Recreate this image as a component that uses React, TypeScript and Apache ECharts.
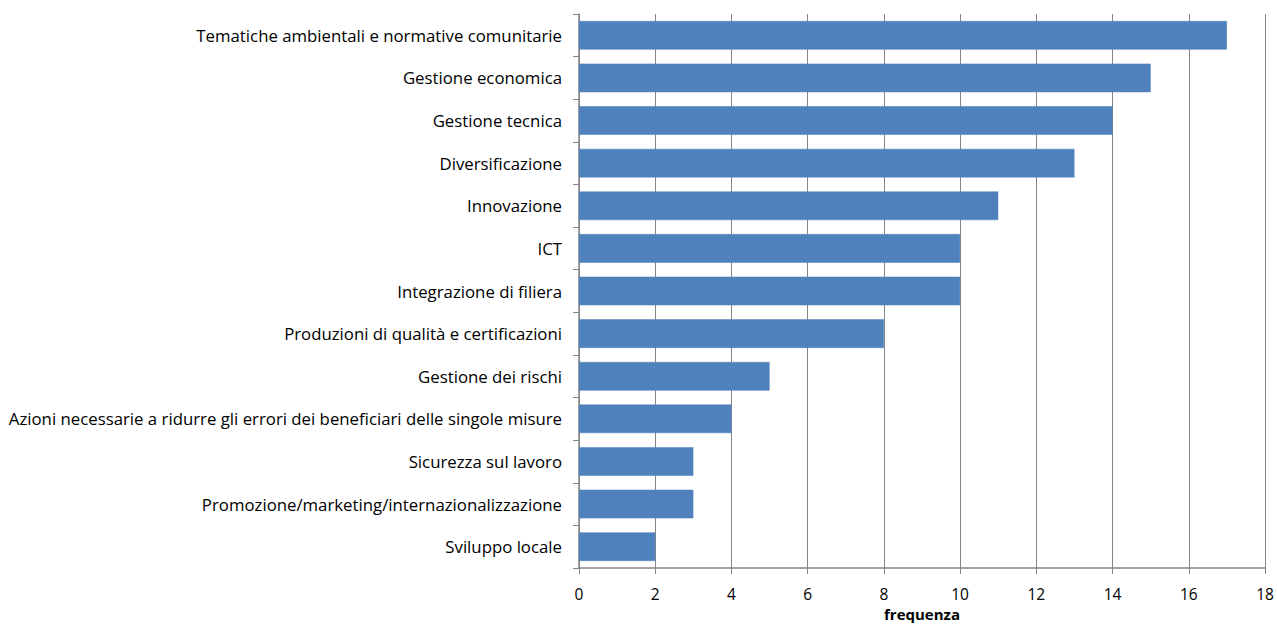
import React, { useEffect, useRef } from "react";
import * as echarts from "echarts";

const categories = [
  "Tematiche ambientali e normative comunitarie",
  "Gestione economica",
  "Gestione tecnica",
  "Diversificazione",
  "Innovazione",
  "ICT",
  "Integrazione di filiera",
  "Produzioni di qualità e certificazioni",
  "Gestione dei rischi",
  "Azioni necessarie a ridurre gli errori dei beneficiari delle singole misure",
  "Sicurezza sul lavoro",
  "Promozione/marketing/internazionalizzazione",
  "Sviluppo locale",
];
const values = [17, 15, 14, 13, 11, 10, 10, 8, 5, 4, 3, 3, 2];

const FONT = "Open Sans";

export default function App() {
  const ref = useRef<HTMLDivElement>(null);
  useEffect(() => {
    const chart = echarts.init(ref.current!, null, { renderer: "svg" });
    chart.setOption({
      animation: false,
      grid: { left: 579, right: 12, top: 14, bottom: 56, containLabel: false, outerBoundsMode: "none" },
      xAxis: {
        type: "value",
        min: 0,
        max: 18,
        interval: 2,
        name: "frequenza",
        nameLocation: "middle",
        nameGap: 37,
        nameTextStyle: { fontFamily: FONT, fontSize: 15, fontWeight: "bold", color: "#000" },
        axisLine: { show: true, lineStyle: { color: "#868686", width: 1.5 } },
        axisTick: { show: true, length: 6, lineStyle: { color: "#868686" } },
        axisLabel: { fontFamily: FONT, fontSize: 15.5, color: "#000", margin: 18 },
        splitLine: { show: true, lineStyle: { color: "#868686", width: 1 } },
      },
      yAxis: {
        type: "category",
        inverse: true,
        data: categories,
        axisLine: { show: true, lineStyle: { color: "#868686", width: 1.5 } },
        axisTick: { show: true, length: 6, alignWithLabel: false, lineStyle: { color: "#868686" } },
        axisLabel: { fontFamily: FONT, fontSize: 16.8, color: "#000", margin: 17 },
        splitLine: { show: false },
      },
      series: [
        {
          type: "bar",
          data: values,
          barCategoryGap: "33%",
          itemStyle: { color: "#4F81BD", borderColor: "#4A7EBB", borderWidth: 0.5 },
        },
      ],
    });
    return () => chart.dispose();
  }, []);
  return (
    <div
      ref={ref}
      style={{ position: "absolute", left: 0, top: 0, width: 1277, height: 624 }}
    />
  );
}
